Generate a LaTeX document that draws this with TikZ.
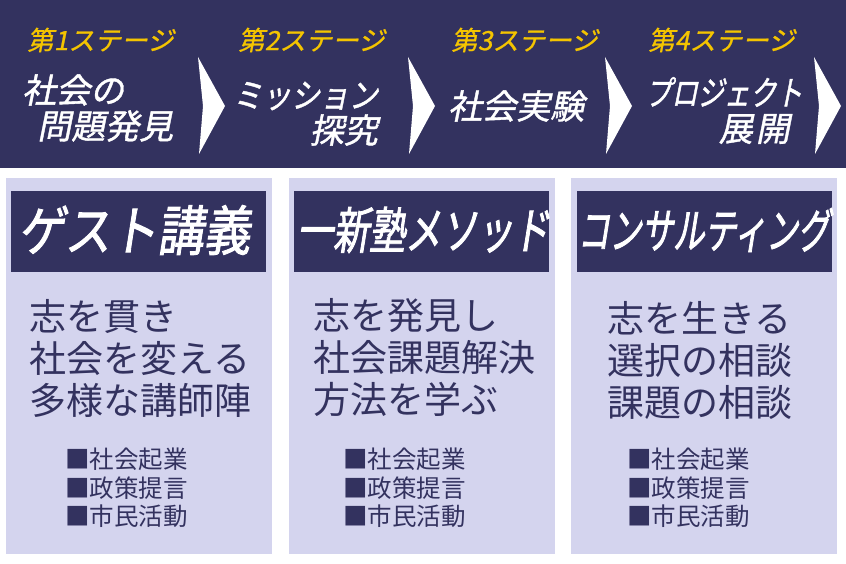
\documentclass[tikz,border=0pt]{standalone}
\usepackage{fontspec}
\usetikzlibrary{positioning}

\newfontfamily\jpfont{Noto Sans CJK JP}
\newfontfamily\jpslant[FakeSlant=0.2,FakeBold=0.8]{Noto Sans CJK JP}
\newfontfamily\ttlfont[FakeSlant=0.2,FakeBold=1.2]{Noto Sans CJK JP}
\newfontfamily\hdrfont[FakeSlant=0.16,FakeBold=1.6]{Noto Sans CJK JP}

\definecolor{navy}{RGB}{51,50,95}
\definecolor{lavender}{RGB}{212,212,238}
\definecolor{stageyellow}{RGB}{244,196,0}

\begin{document}
\begin{tikzpicture}[
  x=1pt, y=-1pt,
  % Node Styles
  banner/.style={fill=navy, minimum width=846pt, minimum height=168pt, inner sep=0},
  panel/.style={fill=lavender, minimum width=266pt, minimum height=376pt, inner sep=0},
  hdr_box/.style={fill=navy, minimum width=255pt, minimum height=81pt, inner sep=0},
  % Text Styles
  stage_lbl/.style={text=stageyellow, anchor=west, inner sep=0, font=\jpslant\fontsize{26.5}{30}\selectfont},
  stage_ttl/.style={text=white, anchor=west, inner sep=0, font=\ttlfont\fontsize{34}{38}\selectfont},
  hdr_txt/.style={text=white, inner sep=0, font=\hdrfont},
  body_txt/.style={text=navy, anchor=west, inner sep=0, align=left, font=\jpfont\fontsize{37}{42}\selectfont},
  item_txt/.style={text=navy, anchor=west, inner sep=0, align=left, font=\jpfont\fontsize{24.5}{28.5}\selectfont}
]
\useasboundingbox (0,0) rectangle (846,564);

% ================= STAGE BANNER =================
\node[banner] (banner) at (423,84) {};

% --- Stage labels ---
\node[stage_lbl] (lbl1) at (27,40)  {第1ステージ};
\node[stage_lbl] (lbl2) at (238,40) {第2ステージ};
\node[stage_lbl] (lbl3) at (451,40) {第3ステージ};
\node[stage_lbl] (lbl4) at (648,40) {第4ステージ};

% --- Stage titles ---
\node[stage_ttl] (ttl1a) at (22,90)  {社会の};
\node[stage_ttl] (ttl1b) at (37,126) {問題発見};
\node[stage_ttl] (ttl2a) at (233,96) {\addfontfeatures{FakeStretch=0.85}ミッション};
\node[stage_ttl, anchor=east] (ttl2b) at (378,130) {探究};
\node[stage_ttl] (ttl3)  at (448,106) {社会実験};
\node[stage_ttl] (ttl4a) at (645,92) {\addfontfeatures{FakeStretch=0.77}プロジェクト};
\node[stage_ttl, anchor=east] (ttl4b) at (790,129) {展\hspace{3pt}開};

% --- Chevrons ---
\foreach \ax in {198,408,605,814}
  \fill[white] (\ax,57) -- (\ax+27,106) -- (\ax+1,154) -- (\ax+5,106) -- cycle;

% ================= PANELS =================
\node[panel] (pnl1) at (139,366) {};
\node[panel] (pnl2) at (422,366) {};
\node[panel] (pnl3) at (704,366) {};

% --- Headers ---
\node[hdr_box] (hdr1) at (138.5,231.5) {};
\node[hdr_box] (hdr2) at (421,231.5)   {};
\node[hdr_box] (hdr3) at (704.5,231.5) {};

\node[hdr_txt] (hdr1txt) at (134,230) {\fontsize{54}{58}\selectfont\addfontfeatures{FakeStretch=0.86}ゲスト講義};
\node[hdr_txt] (hdr2txt) at (423,230) {\fontsize{50}{54}\selectfont\addfontfeatures{FakeStretch=0.72}一新塾メソッド};
\node[hdr_txt] (hdr3txt) at (703.5,230) {\fontsize{48}{52}\selectfont\addfontfeatures{FakeStretch=0.66}コンサルティング};

% --- Body text ---
\node[body_txt] (body1) at (29,358)  {志を貫き\\社会を変える\\多様な講師陣};
\node[body_txt] (body2) at (313,358) {志を発見し\\社会課題解決\\方法を学ぶ};
\node[body_txt] (body3) at (607,360) {志を生きる\\選択の相談\\課題の相談};

% --- Item lists ---
\node[item_txt] (items1) at (65,488)  {■社会起業\\■政策提言\\■市民活動};
\node[item_txt] (items2) at (343,488) {■社会起業\\■政策提言\\■市民活動};
\node[item_txt] (items3) at (627,488) {■社会起業\\■政策提言\\■市民活動};

\end{tikzpicture}
\end{document}
